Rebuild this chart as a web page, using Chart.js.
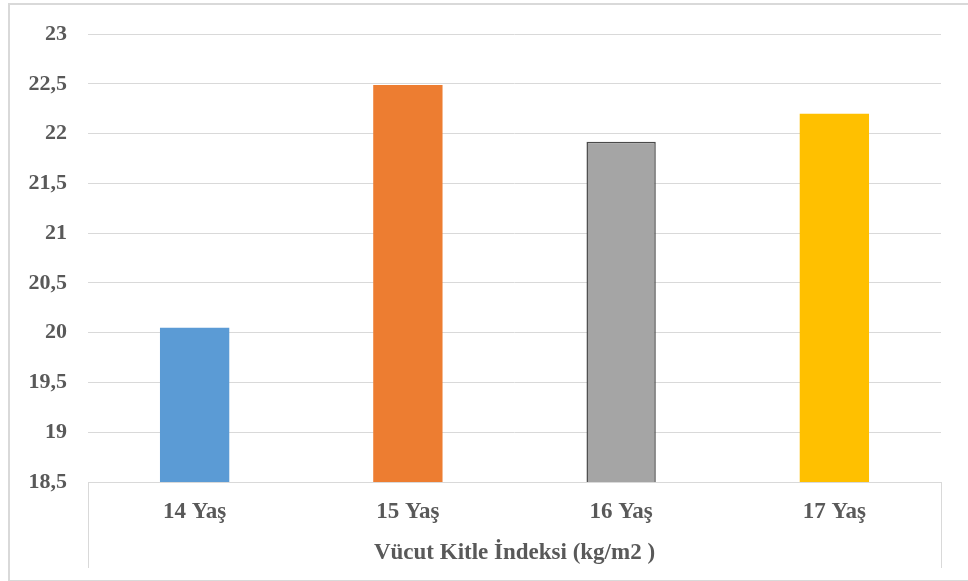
<!DOCTYPE html>
<html>
<head>
<meta charset="utf-8">
<script src="https://cdn.jsdelivr.net/npm/chart.js@4/dist/chart.umd.min.js"></script>
<style>
  html, body { margin: 0; padding: 0; background: #ffffff; }
  body { width: 968px; height: 581px; position: relative; overflow: hidden; }
  #frame {
    position: absolute; left: 8px; top: 3px; width: 1000px; height: 575px;
    border: 2px solid #d9d9d9; border-bottom-width: 1px; box-sizing: content-box;
  }
  #chart { position: absolute; left: 0; top: 0; }
</style>
</head>
<body>
<div id="frame"></div>
<canvas id="chart" width="968" height="581"></canvas>
<script>
// Mean body-mass index by age group
const categories = ['14 Yaş', '15 Yaş', '16 Yaş', '17 Yaş'];
const bmiValues = [20.05, 22.49, 21.92, 22.2];
const barColors = ['#5b9bd5', '#ed7d31', '#a5a5a5', '#ffc000'];
const barBorders = ['#5b9bd5', '#ed7d31', '#4a4a4a', '#ffc000'];
const yTickValues = [18.5, 19, 19.5, 20, 20.5, 21, 21.5, 22, 22.5, 23];
const yTickLabels = ['18,5', '19', '19,5', '20', '20,5', '21', '21,5', '22', '22,5', '23'];
const axisTitle = 'Vücut Kitle İndeksi (kg/m2 )';

const textColor = '#595959';
const gridColor = '#d9d9d9';
const serif = '"Liberation Serif", "Times New Roman", serif';
const yFont = { family: serif, size: 22, weight: 'bold' };
const xFont = { family: serif, size: 23, weight: 'bold' };

// Vertical rules closing the category-axis box under the plot
const axisBox = {
  id: 'axisBox',
  afterDraw(chart) {
    const { ctx, chartArea } = chart;
    ctx.save();
    ctx.strokeStyle = gridColor;
    ctx.lineWidth = 1;
    ctx.beginPath();
    [chartArea.left, chartArea.right].forEach(x => {
      const px = Math.round(x) + 0.5;
      ctx.moveTo(px, chartArea.bottom);
      ctx.lineTo(px, chartArea.bottom + 86);
    });
    ctx.stroke();
    ctx.restore();
  }
};

new Chart(document.getElementById('chart'), {
  type: 'bar',
  data: {
    labels: categories,
    datasets: [{
      data: bmiValues,
      backgroundColor: barColors,
      borderColor: barBorders,
      borderWidth: [0, 0, 1.5, 0],
      borderSkipped: 'bottom',
      categoryPercentage: 1,
      barPercentage: 0.325
    }]
  },
  options: {
    responsive: false,
    animation: false,
    layout: { padding: { left: 0, right: 27, top: 34, bottom: 0 } },
    plugins: {
      legend: { display: false },
      tooltip: { enabled: false }
    },
    scales: {
      x: {
        grid: { display: false, drawTicks: false },
        border: { display: true, color: gridColor },
        ticks: { color: textColor, font: xFont, padding: 16, maxRotation: 0 },
        title: {
          display: true,
          text: axisTitle,
          color: textColor,
          font: xFont,
          padding: { top: 0, bottom: 14 }
        },
        afterFit(scale) { scale.height = 99; }
      },
      y: {
        min: yTickValues[0],
        max: yTickValues[yTickValues.length - 1],
        afterBuildTicks(scale) {
          scale.ticks = yTickValues.map(v => ({ value: v }));
        },
        grid: { color: gridColor, drawTicks: false },
        border: { display: false },
        ticks: {
          color: textColor,
          font: yFont,
          padding: 21,
          callback(value) {
            const i = yTickValues.indexOf(value);
            return i >= 0 ? yTickLabels[i] : '';
          }
        },
        afterFit(scale) { scale.width = 88; }
      }
    }
  },
  plugins: [axisBox]
});
</script>
</body>
</html>
